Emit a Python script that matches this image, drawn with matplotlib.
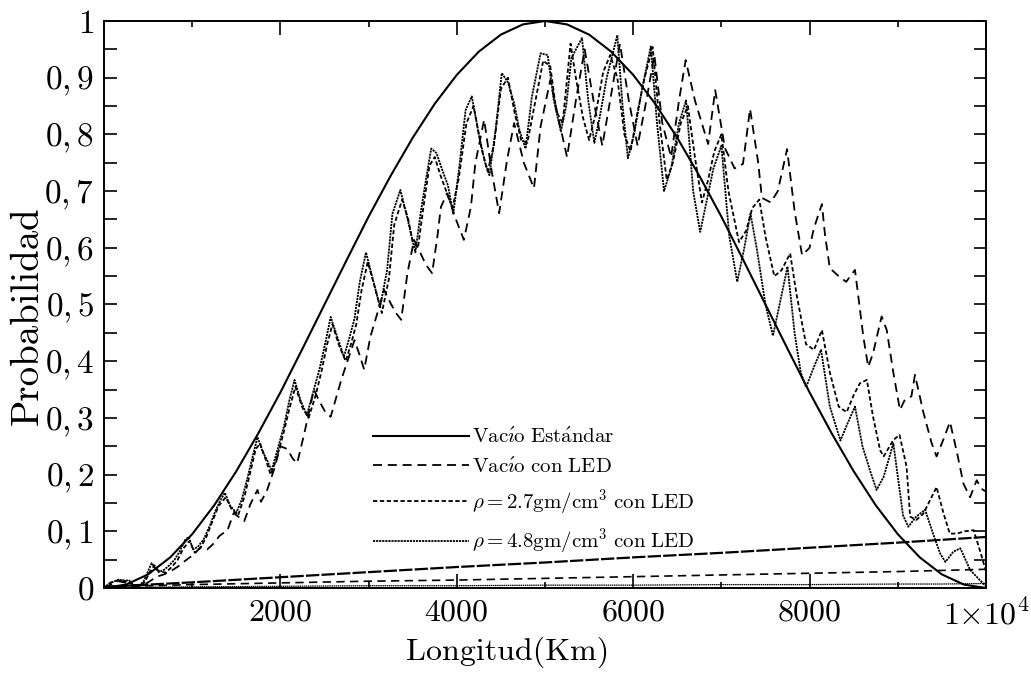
import matplotlib
matplotlib.use("Agg")
import matplotlib.pyplot as plt
from matplotlib.ticker import FixedLocator, MultipleLocator

plt.rcParams["mathtext.fontset"] = "cm"
plt.rcParams["font.family"] = ["cmr10", "DejaVu Serif"]
plt.rcParams["axes.formatter.use_mathtext"] = True

# standard vacuum probability, read every 250 km
std_km = list(range(0, 10001, 250))
std_prob = [0.000, 0.006, 0.024, 0.054, 0.095, 0.146, 0.206, 0.273, 0.345, 0.422,
            0.500, 0.578, 0.655, 0.727, 0.794, 0.854, 0.905, 0.946, 0.976, 0.994,
            1.000, 0.994, 0.976, 0.946, 0.905, 0.854, 0.794, 0.727, 0.655, 0.578,
            0.500, 0.422, 0.345, 0.273, 0.206, 0.146, 0.095, 0.054, 0.024, 0.006,
            0.000]

# vacuum with LED (long dashes)
vac_led_km = [0, 100, 160, 230, 300, 380, 450, 520, 600, 680,
              760, 840, 920, 990, 1060, 1100, 1170, 1240, 1310, 1400,
              1470, 1530, 1590, 1660, 1740, 1780, 1850, 1930, 2000, 2080,
              2140, 2190, 2270, 2330, 2380, 2440, 2510, 2570, 2640, 2690,
              2760, 2840, 2900, 2950, 3020, 3100, 3175, 3250, 3310, 3370,
              3440, 3515, 3590, 3650, 3720, 3780, 3820, 3890, 3990, 4080,
              4160, 4210, 4310, 4390, 4480, 4570, 4650, 4760, 4875, 4950,
              5060, 5150, 5250, 5350, 5450, 5550, 5650, 5750, 5850, 5950,
              6050, 6150, 6240, 6330, 6430, 6520, 6595, 6700, 6850, 6930,
              7040, 7150, 7245, 7325, 7415, 7460, 7560, 7640, 7745, 7830,
              7915, 8000, 8050, 8140, 8175, 8230, 8330, 8415, 8515, 8610,
              8665, 8720, 8817, 8875, 8950, 9025, 9080, 9155, 9195, 9290,
              9385, 9440, 9515, 9592, 9670, 9745, 9820, 9895, 9950, 10000]
vac_led_prob = [0.0, 0.008, 0.012, 0.01, 0.007, 0.003, 0.005, 0.012, 0.02, 0.024,
                0.03, 0.038, 0.048, 0.056, 0.066, 0.073, 0.068, 0.078, 0.092, 0.102,
                0.132, 0.125, 0.118, 0.148, 0.173, 0.152, 0.173, 0.21, 0.25, 0.245,
                0.228, 0.22, 0.272, 0.315, 0.35, 0.33, 0.31, 0.302, 0.34, 0.367,
                0.4, 0.437, 0.41, 0.385, 0.443, 0.485, 0.526, 0.502, 0.485, 0.473,
                0.555, 0.614, 0.59, 0.57, 0.555, 0.62, 0.672, 0.696, 0.65, 0.614,
                0.672, 0.749, 0.826, 0.74, 0.661, 0.755, 0.82, 0.75, 0.705, 0.814,
                0.896, 0.83, 0.76, 0.86, 0.95, 0.86, 0.78, 0.87, 0.96, 0.86,
                0.78, 0.86, 0.94, 0.82, 0.76, 0.86, 0.931, 0.86, 0.783, 0.878,
                0.776, 0.74, 0.748, 0.845, 0.753, 0.688, 0.68, 0.70, 0.774, 0.665,
                0.587, 0.6, 0.635, 0.677, 0.623, 0.564, 0.55, 0.54, 0.561, 0.443,
                0.39, 0.414, 0.479, 0.455, 0.38, 0.314, 0.332, 0.338, 0.376, 0.31,
                0.255, 0.232, 0.261, 0.293, 0.24, 0.184, 0.16, 0.19, 0.175, 0.17]

# rho = 2.7 gm/cm3 with LED (short dashes)
rho27_km = [0, 80, 150, 210, 270, 340, 400, 460, 520, 570,
            620, 700, 760, 830, 900, 970, 1030, 1090, 1160, 1230,
            1300, 1380, 1450, 1520, 1590, 1660, 1720, 1770, 1830, 1890,
            1950, 2030, 2100, 2170, 2250, 2320, 2400, 2470, 2530, 2590,
            2660, 2740, 2800, 2860, 2920, 2990, 3080, 3150, 3230, 3290,
            3380, 3450, 3500, 3560, 3620, 3690, 3750, 3810, 3880, 3950,
            4020, 4110, 4190, 4280, 4350, 4420, 4500, 4580, 4660, 4730,
            4800, 4880, 4980, 5060, 5130, 5200, 5290, 5350, 5430, 5500,
            5580, 5660, 5740, 5820, 5900, 5970, 6050, 6130, 6220, 6300,
            6380, 6450, 6540, 6620, 6700, 6780, 6850, 6920, 7000, 7080,
            7200, 7280, 7350, 7430, 7500, 7600, 7680, 7780, 7850, 7960,
            8050, 8140, 8230, 8330, 8420, 8500, 8570, 8650, 8720, 8800,
            8840, 8950, 9020, 9100, 9140, 9210, 9290, 9440, 9520, 9590,
            9670, 9760, 9860, 9930, 10000]
rho27_prob = [0.0, 0.01, 0.013, 0.014, 0.011, 0.005, 0.004, 0.01, 0.028, 0.04,
              0.03, 0.027, 0.036, 0.048, 0.07, 0.083, 0.062, 0.07, 0.09, 0.118,
              0.145, 0.16, 0.138, 0.128, 0.16, 0.205, 0.245, 0.255, 0.228, 0.2,
              0.225, 0.27, 0.315, 0.355, 0.318, 0.3, 0.34, 0.385, 0.43, 0.465,
              0.43, 0.4, 0.43, 0.465, 0.525, 0.575, 0.525, 0.485, 0.545, 0.64,
              0.685, 0.65, 0.61, 0.6, 0.67, 0.745, 0.76, 0.73, 0.7, 0.67,
              0.72, 0.82, 0.85, 0.775, 0.735, 0.78, 0.88, 0.9, 0.835, 0.79,
              0.785, 0.85, 0.93, 0.92, 0.84, 0.82, 0.96, 0.9, 0.83, 0.79,
              0.84, 0.91, 0.94, 0.9, 0.8, 0.77, 0.84, 0.9, 0.954, 0.82,
              0.72, 0.75, 0.82, 0.85, 0.76, 0.68, 0.72, 0.77, 0.80, 0.7,
              0.61, 0.63, 0.67, 0.685, 0.62, 0.55, 0.56, 0.59, 0.52, 0.43,
              0.42, 0.455, 0.38, 0.32, 0.31, 0.34, 0.361, 0.367, 0.302, 0.243,
              0.232, 0.261, 0.27, 0.214, 0.126, 0.12, 0.131, 0.178, 0.131, 0.096,
              0.096, 0.1, 0.102, 0.067, 0.03]

# rho = 4.8 gm/cm3 with LED (fine dots)
rho48_km = [0, 60, 120, 170, 230, 280, 330, 390, 450, 500,
            540, 580, 620, 680, 740, 800, 860, 920, 960, 1010,
            1060, 1130, 1200, 1260, 1320, 1370, 1430, 1500, 1560, 1620,
            1690, 1740, 1800, 1850, 1900, 1960, 2040, 2100, 2160, 2230,
            2300, 2380, 2450, 2520, 2570, 2640, 2720, 2780, 2840, 2900,
            2970, 3060, 3130, 3210, 3270, 3360, 3420, 3480, 3530, 3590,
            3650, 3710, 3770, 3840, 3900, 3960, 4030, 4100, 4170, 4250,
            4320, 4370, 4440, 4510, 4580, 4650, 4710, 4780, 4850, 4950,
            5030, 5100, 5180, 5240, 5300, 5420, 5490, 5560, 5620, 5700,
            5820, 5880, 5940, 6010, 6100, 6200, 6270, 6350, 6430, 6520,
            6600, 6680, 6760, 6830, 6910, 7000, 7090, 7180, 7260, 7330,
            7400, 7500, 7585, 7660, 7750, 7830, 7900, 7960, 8050, 8130,
            8230, 8350, 8430, 8515, 8600, 8690, 8760, 8840, 8950, 9010,
            9060, 9120, 9210, 9310, 9400, 9480, 9540, 9630, 9710, 9820,
            9930, 10000]
rho48_prob = [0.0, 0.008, 0.012, 0.015, 0.012, 0.014, 0.006, 0.003, 0.012, 0.03,
              0.044, 0.035, 0.028, 0.032, 0.04, 0.05, 0.065, 0.085, 0.09, 0.068,
              0.072, 0.086, 0.11, 0.135, 0.155, 0.168, 0.145, 0.133, 0.155, 0.19,
              0.235, 0.266, 0.24, 0.225, 0.207, 0.24, 0.285, 0.33, 0.367, 0.33,
              0.305, 0.35, 0.39, 0.44, 0.478, 0.445, 0.408, 0.44, 0.475, 0.54,
              0.592, 0.537, 0.495, 0.561, 0.66, 0.702, 0.665, 0.625, 0.592, 0.661,
              0.72, 0.775, 0.767, 0.735, 0.71, 0.66, 0.745, 0.843, 0.867, 0.8,
              0.75, 0.728, 0.808, 0.908, 0.892, 0.855, 0.808, 0.775, 0.865, 0.943,
              0.94, 0.86, 0.805, 0.85, 0.935, 0.97, 0.86, 0.785, 0.83, 0.9,
              0.975, 0.85, 0.758, 0.8, 0.88, 0.955, 0.82, 0.70, 0.74, 0.82,
              0.86, 0.7, 0.628, 0.68, 0.74, 0.78, 0.62, 0.54, 0.6, 0.66,
              0.6, 0.5, 0.445, 0.5, 0.567, 0.45, 0.38, 0.354, 0.39, 0.42,
              0.32, 0.26, 0.29, 0.32, 0.25, 0.205, 0.173, 0.196, 0.255, 0.185,
              0.128, 0.108, 0.126, 0.138, 0.096, 0.061, 0.046, 0.064, 0.07, 0.032,
              0.014, 0.003]

# the slowly rising lines along the bottom
low_km = [0, 1000, 2000, 3000, 4000, 5000, 6000, 7000, 8000, 9000, 9500, 10000]
low_rise = [0.002, 0.010, 0.019, 0.028, 0.037, 0.045, 0.054, 0.062, 0.071, 0.080, 0.085, 0.090]
low_dash = [0.002, 0.006, 0.009, 0.012, 0.014, 0.017, 0.020, 0.023, 0.026, 0.029, 0.031, 0.033]
low_dot = [0.001, 0.002, 0.003, 0.004, 0.004, 0.005, 0.005, 0.006, 0.006, 0.007, 0.007, 0.008]

x_ticks = [2000, 4000, 6000, 8000, 10000]
x_tick_labels = [r"$2000$", r"$4000$", r"$6000$", r"$8000$", r"$1{\times}10^4$"]
y_ticks = [0.0, 0.1, 0.2, 0.3, 0.4, 0.5, 0.6, 0.7, 0.8, 0.9, 1.0]
y_tick_labels = [r"$0$", r"$0,1$", r"$0,2$", r"$0,3$", r"$0,4$", r"$0,5$",
                 r"$0,6$", r"$0,7$", r"$0,8$", r"$0,9$", r"$1$"]

LONG_DASH = (0, (5.0, 3.2))
SHORT_DASH = (0, (2.4, 1.4))
FINE_DOT = (0, (1.2, 0.5))


def main() -> None:
    fig = plt.figure(figsize=(10.31, 6.73), dpi=100)
    ax = fig.add_axes([0.1009, 0.1263, 0.8554, 0.8425])

    ax.plot(std_km, std_prob, color="black", lw=1.5,
            label=r"$\mathrm{Vac\acute{\imath}o\ Est\acute{a}ndar}$")
    ax.plot(vac_led_km, vac_led_prob, color="black", lw=1.3, linestyle=LONG_DASH,
            label=r"$\mathrm{Vac\acute{\imath}o\ con\ LED}$")
    ax.plot(rho27_km, rho27_prob, color="black", lw=1.3, linestyle=SHORT_DASH,
            label=r"$\rho = 2.7\mathrm{gm/cm^3\ con\ LED}$")
    ax.plot(rho48_km, rho48_prob, color="black", lw=1.3, linestyle=FINE_DOT,
            label=r"$\rho = 4.8\mathrm{gm/cm^3\ con\ LED}$")

    ax.plot(low_km, low_rise, color="black", lw=1.6, linestyle=(0, (6, 1)))
    ax.plot(low_km, low_dash, color="black", lw=1.2, linestyle=LONG_DASH)
    ax.plot(low_km, low_dot, color="black", lw=0.9, linestyle=FINE_DOT)

    ax.set_xlim(0, 10000)
    ax.set_ylim(0, 1)

    ax.xaxis.set_major_locator(FixedLocator(x_ticks))
    ax.xaxis.set_minor_locator(MultipleLocator(1000))
    ax.set_xticklabels(x_tick_labels)
    ax.yaxis.set_major_locator(FixedLocator(y_ticks))
    ax.yaxis.set_minor_locator(MultipleLocator(0.05))
    ax.set_yticklabels(y_tick_labels)

    ax.tick_params(axis="both", which="both", direction="in", top=True, right=True,
                   width=1.2)
    ax.tick_params(axis="x", which="major", length=10, pad=8, labelsize=23)
    ax.tick_params(axis="x", which="minor", length=4)
    ax.tick_params(axis="y", which="both", length=9, pad=7, labelsize=24)
    for spine in ax.spines.values():
        spine.set_linewidth(1.4)

    ax.set_xlabel("Longitud(Km)", fontsize=23)
    ax.xaxis.set_label_coords(0.458, -0.085)
    ax.set_ylabel("Probabilidad", fontsize=28)
    ax.yaxis.set_label_coords(-0.066, 0.48)

    ax.legend(loc="upper left", bbox_to_anchor=(0.305, 0.283), frameon=False,
              fontsize=15, handlelength=4.6, handletextpad=0.15,
              labelspacing=0.5, borderpad=0.0, borderaxespad=0.0)

    fig.savefig("out.png", dpi=100)
    plt.close(fig)


if __name__ == "__main__":
    main()
